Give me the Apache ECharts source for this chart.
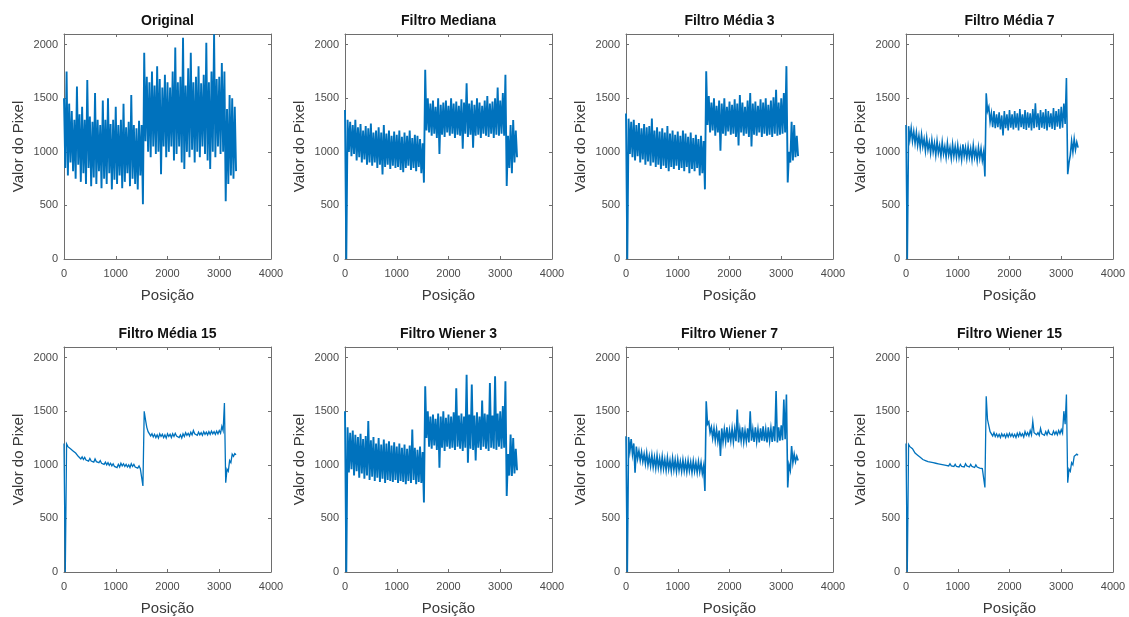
<!DOCTYPE html>
<html>
<head>
<meta charset="utf-8">
<script src="https://cdn.jsdelivr.net/npm/echarts@6/dist/echarts.min.js"></script>
<style>
html,body{margin:0;padding:0;background:#fff;}
#chart{width:1129px;height:617px;}
</style>
</head>
<body>
<div id="chart"></div>
<script>
// ---- Data ----
// Each panel: upper (hi) and lower (lo) excursions of the noisy signal,
// sampled every 50 positions (hi at 0,50,100..., lo at 25,75,125...).
const titles = ["Original", "Filtro Mediana", "Filtro Média 3", "Filtro Média 7",
                "Filtro Média 15", "Filtro Wiener 3", "Filtro Wiener 7", "Filtro Wiener 15"];
const xTicks = [0, 1000, 2000, 3000, 4000];
const yTicks = [0, 500, 1000, 1500, 2000];
const xLabel = "Posição";
const yLabel = "Valor do Pixel";

const originalHi = [1500,1750,1450,1380,1300,1610,1350,1420,1300,1670,
  1330,1280,1550,1300,1250,1480,1300,1500,1260,1300,
  1420,1250,1300,1450,1230,1280,1530,1250,1220,1290,
  1250,
  1925,1700,1650,1750,1620,1800,1680,1600,1720,1650,
  1600,1750,1975,1650,1700,2066,1620,1780,1925,1650,
  1700,1800,1640,1720,2019,1650,1750,2097,1680,1700,
  1830,1750,
  1400,1530,1500,1420];
const originalLo = [850,780,900,820,750,880,720,800,700,850,
  680,760,700,820,660,750,700,800,650,740,
  700,780,660,720,800,680,750,700,650,780,
  510,
  1100,1000,950,1050,980,1000,790,1050,950,1000,
  1050,920,980,1050,900,840,1000,950,1020,900,
  1000,950,1050,980,920,840,1000,950,1050,980,
  1000,540,
  700,780,750,820];

const medianaHi = [1390,1300,1280,1250,1300,1230,1260,1200,1240,1220,
  1265,1180,1200,1230,1180,1250,1170,1200,1150,1190,
  1160,1200,1140,1180,1150,1200,1130,1160,1150,1120,
  1080,
  1767,1500,1450,1480,1420,1500,1440,1460,1480,1430,
  1500,1450,1470,1430,1490,1460,1641,1450,1480,1440,
  1500,1460,1430,1480,1520,1450,1470,1500,1600,1480,
  1550,1720,
  1150,1250,1296,1200];
const medianaLo = [0,1000,960,980,920,950,900,930,880,900,
  870,900,850,880,790,860,880,840,870,850,
  860,830,810,850,870,830,850,820,860,800,
  713,
  1200,1180,1150,1170,1130,980,1160,1140,1180,1150,
  1170,1130,1160,1150,1030,1170,1140,1160,1038,1150,
  1160,1130,1170,1150,1140,1170,1130,1160,1150,1170,
  1150,682,
  850,800,900,950];

const media3Hi = [1358,1310,1280,1300,1250,1270,1220,1260,1230,1240,
  1311,1200,1230,1190,1220,1180,1240,1170,1200,1160,
  1190,1150,1200,1170,1140,1180,1130,1160,1120,1150,
  1100,
  1752,1520,1460,1500,1430,1480,1450,1500,1420,1470,
  1440,1490,1450,1530,1460,1420,1480,1550,1450,1470,
  1430,1490,1460,1500,1440,1480,1510,1580,1460,1500,
  1550,1800,
  1000,1280,1250,1150];
const media3Lo = [0,980,950,920,960,900,930,880,910,870,
  900,860,880,840,870,850,820,860,840,870,
  830,850,820,860,800,840,820,850,780,800,
  650,
  1250,1180,1200,1150,1180,1010,1170,1150,1190,1160,
  1170,1140,1060,1180,1150,1170,1140,1050,1160,1150,
  1180,1140,1170,1150,1160,1140,1170,1150,1160,1170,
  1180,714,
  900,920,950,960];

const media7Hi = [1250,1240,1220,1190,1180,1150,1160,1120,1130,1090,
  1110,1080,1100,1060,1090,1050,1080,1040,1070,1050,
  1060,1030,1070,1040,1050,1030,1060,1020,1040,1030,
  1000,
  1547,1420,1360,1380,1350,1370,1340,1380,1350,1390,
  1350,1380,1360,1400,1350,1390,1370,1360,1400,1453,
  1360,1390,1370,1400,1380,1360,1410,1380,1400,1420,
  1450,1690,
  900,1100,1120,1090];
const media7Lo = [0,1120,1100,1080,1060,1040,1050,1010,1020,990,
  1000,970,990,960,980,950,970,940,960,950,
  950,930,960,940,950,930,950,920,940,920,
  770,
  1380,1280,1230,1220,1230,1210,1154,1220,1200,1225,
  1210,1225,1200,1230,1215,1205,1225,1200,1220,1230,
  1205,1225,1215,1200,1230,1215,1205,1235,1215,1225,
  1260,792,
  970,1000,1020,1040];

const media15Hi = [1200,1195,1180,1160,1140,1110,1080,1075,1070,1060,
  1060,1050,1055,1045,1040,1030,1025,1020,1015,1010,
  1000,1005,1015,1010,1005,1000,1010,1005,995,990,
  960,
  1500,1350,1300,1290,1285,1280,1290,1285,1280,1290,
  1285,1290,1295,1285,1280,1290,1300,1295,1305,1320,
  1300,1305,1300,1310,1305,1310,1315,1310,1315,1320,
  1360,1578,
  960,1040,1100,1105];
const media15Lo = [0,1170,1150,1130,1110,1080,1055,1050,1045,1035,
  1035,1025,1030,1020,1015,1005,1000,995,990,985,
  975,980,990,985,980,975,985,980,970,965,
  803,
  1420,1310,1270,1260,1255,1250,1265,1255,1250,1265,
  1255,1265,1270,1255,1250,1265,1275,1270,1280,1290,
  1275,1280,1275,1285,1280,1285,1290,1285,1290,1295,
  1320,834,
  940,1020,1080,1095];

const wiener3Hi = [1501,1350,1300,1320,1280,1260,1290,1240,1270,1409,
  1230,1260,1200,1250,1190,1237,1200,1220,1180,1210,
  1170,1200,1160,1190,1150,1180,1330,1160,1140,1170,
  1120,
  1733,1500,1450,1470,1430,1480,1450,1500,1440,1470,
  1450,1490,1715,1460,1480,1450,1842,1470,1750,1460,
  1490,1450,1600,1480,1470,1764,1460,1826,1480,1500,
  1550,1780,
  1100,1284,1250,1150];
const wiener3Lo = [0,930,960,900,940,880,920,870,900,860,
  890,850,880,840,870,830,860,850,840,860,
  830,850,840,820,850,830,860,820,840,830,
  648,
  1250,1170,1150,1180,1140,974,1160,1130,1170,1150,
  1160,1140,1170,1150,1130,1160,1020,1150,1140,1040,
  1160,1140,1170,1150,1130,1160,1150,1140,1170,1150,
  1160,710,
  900,896,920,950];

const wiener7Hi = [1268,1260,1240,1200,1170,1130,1120,1100,1110,1080,
  1090,1070,1085,1060,1075,1050,1065,1040,1060,1045,
  1050,1030,1045,1030,1040,1025,1035,1020,1030,1020,
  990,
  1593,1400,1350,1340,1330,1320,1340,1330,1350,1320,
  1340,1330,1516,1330,1350,1320,1340,1500,1330,1350,
  1330,1340,1360,1330,1350,1340,1360,1690,1350,1370,
  1609,1656,
  1000,1175,1100,1080];
const wiener7Lo = [0,1130,1100,927,1060,1040,1030,1010,1000,990,
  980,970,975,960,965,950,960,945,955,940,
  950,940,945,935,945,930,940,930,935,920,
  757,
  1380,1300,1250,1230,1220,1082,1215,1220,1210,1225,
  1215,1220,1210,1225,1215,1220,1210,1225,1215,1220,
  1210,1225,1220,1210,1225,1215,1220,1210,1225,1230,
  1240,789,
  950,1020,1030,1040];

const wiener15Hi = [1200,1190,1170,1130,1110,1090,1070,1060,1050,1045,
  1040,1035,1030,1025,1020,1015,1010,1010,1005,1005,
  1000,1005,1000,1010,1000,1005,995,1000,990,985,
  960,
  1640,1430,1320,1300,1290,1285,1290,1285,1290,1295,
  1290,1285,1295,1300,1290,1310,1300,1320,1407,1310,
  1300,1340,1300,1310,1320,1305,1315,1310,1320,1330,
  1501,1656,
  960,1020,1080,1100];
const wiener15Lo = [0,1170,1150,1110,1090,1070,1050,1040,1030,1025,
  1020,1015,1010,1005,1000,995,990,990,985,985,
  980,985,980,990,980,985,975,980,970,965,
  789,
  1423,1310,1270,1265,1260,1255,1265,1255,1260,1265,
  1260,1255,1265,1270,1260,1275,1270,1280,1300,1280,
  1275,1290,1275,1280,1290,1280,1285,1280,1290,1295,
  1380,833,
  940,1000,1070,1090];

const panelHi = [originalHi, medianaHi, media3Hi, media7Hi, media15Hi, wiener3Hi, wiener7Hi, wiener15Hi];
const panelLo = [originalLo, medianaLo, media3Lo, media7Lo, media15Lo, wiener3Lo, wiener7Lo, wiener15Lo];
const SAMPLE_STEP = 50;

// ---- Layout / style ----
const colLeft = [64, 345, 626, 906];
const rowTop = [34, 347];
const GW = 207, GH = 225;
const FONT = "'Liberation Sans', Arial, Helvetica, sans-serif";
const AXIS_COLOR = '#6e6e6e';
const LINE_COLOR = '#0072BD';
const lineWidths = [1.9, 1.9, 1.9, 1.6, 1.3, 1.9, 1.6, 1.3];

function buildSeriesData(hi, lo) {
  const d = [];
  for (let i = 0; i < hi.length; i++) {
    d.push([i * SAMPLE_STEP, hi[i]]);
    d.push([i * SAMPLE_STEP + SAMPLE_STEP / 2, lo[i]]);
  }
  return d;
}

const grid = [], xAxis = [], yAxis = [], series = [], graphic = [];
for (let p = 0; p < 8; p++) {
  const r = Math.floor(p / 4), c = p % 4;
  grid.push({left: colLeft[c], top: rowTop[r], width: GW, height: GH, show: false, containLabel: false});
  const commonX = {
    type: 'value', gridIndex: p, min: xTicks[0], max: xTicks[xTicks.length - 1], interval: 1000,
    splitLine: {show: false},
    axisLine: {show: true, onZero: false, lineStyle: {color: AXIS_COLOR, width: 1}},
    axisTick: {show: true, inside: true, length: 3, lineStyle: {color: AXIS_COLOR}}
  };
  xAxis.push(Object.assign({}, commonX, {
    position: 'bottom',
    name: xLabel, nameLocation: 'middle', nameGap: 29,
    nameTextStyle: {fontFamily: FONT, fontSize: 15, color: '#3a3a3a'},
    axisLabel: {show: true, fontFamily: FONT, fontSize: 11, color: '#4a4a4a', margin: 9,
      formatter: v => String(v)}
  }));
  xAxis.push(Object.assign({}, commonX, {position: 'top', axisLabel: {show: false}}));
  const commonY = {
    type: 'value', gridIndex: p, min: 0, max: 2100, interval: 500,
    splitLine: {show: false},
    axisLine: {show: true, onZero: false, lineStyle: {color: AXIS_COLOR, width: 1}},
    axisTick: {show: true, inside: true, length: 3, lineStyle: {color: AXIS_COLOR}}
  };
  yAxis.push(Object.assign({}, commonY, {
    position: 'left',
    name: yLabel, nameLocation: 'middle', nameGap: 38,
    nameTextStyle: {fontFamily: FONT, fontSize: 15, color: '#3a3a3a'},
    axisLabel: {show: true, fontFamily: FONT, fontSize: 11, color: '#4a4a4a', margin: 6,
      showMaxLabel: false,
      formatter: v => (yTicks.indexOf(v) >= 0 ? String(v) : '')}
  }));
  yAxis.push(Object.assign({}, commonY, {position: 'right', axisLabel: {show: false}}));
  series.push({
    type: 'line', xAxisIndex: 2 * p, yAxisIndex: 2 * p,
    data: buildSeriesData(panelHi[p], panelLo[p]),
    showSymbol: false, symbol: 'none', smooth: false,
    lineStyle: {color: LINE_COLOR, width: lineWidths[p], join: 'miter'},
    itemStyle: {color: LINE_COLOR},
    silent: true, animation: false
  });
  graphic.push({
    type: 'text', x: colLeft[c] + GW / 2, y: rowTop[r] - 13,
    style: {text: titles[p], fontFamily: FONT, fontSize: 14, fontWeight: 'bold', fill: '#111',
      textAlign: 'center', textVerticalAlign: 'middle'}
  });
}

const chart = echarts.init(document.getElementById('chart'), null, {renderer: 'canvas'});
chart.setOption({
  animation: false,
  backgroundColor: '#ffffff',
  grid, xAxis, yAxis, series, graphic
});
</script>
</body>
</html>
